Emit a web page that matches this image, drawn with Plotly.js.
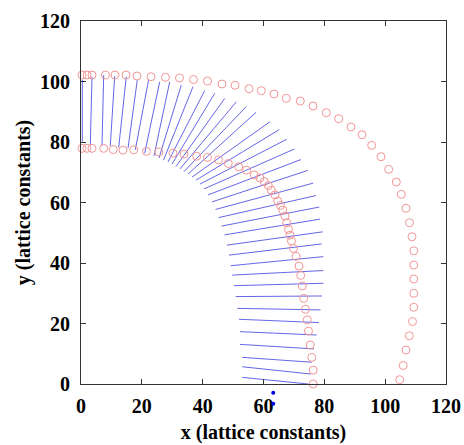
<!DOCTYPE html>
<html>
<head>
<meta charset="utf-8">
<script src="https://cdn.plot.ly/plotly-3.0.1.min.js"></script>
<style>html,body{margin:0;padding:0;background:#fff}#chart{width:464px;height:445px}</style>
</head>
<body>
<div id="chart"></div>
<script>
// Outer ring of circles
const outerRingX = [0.33,1.97,3.62,8.05,11.18,14.8,18.41,23.01,27.78,32.38,36.99,41.59,46.36,50.63,55.23,59.28,63.45,67.50,72.10,76.27,80.65,84.72,88.77,92.38,95.57,98.63,101.16,103.66,105.30,106.85,108.0,108.82,109.41,109.41,109.41,109.41,109.41,108.99,107.94,106.85,105.93,104.78];
const outerRingY = [102.15,102.15,102.15,102.15,102.15,102.15,101.82,101.59,101.39,101.16,100.66,100.17,99.17,98.74,97.62,96.96,95.87,94.45,93.55,91.90,89.69,87.70,84.96,82.41,78.91,75.14,70.98,66.78,62.71,58.08,53.32,48.69,44.03,39.34,34.71,29.98,25.36,20.66,15.93,11.24,6.12,1.42];
// Inner ring of circles
const innerRingX = [0.33,1.97,3.62,7.46,10.62,13.81,17.33,21.53,25.58,30.25,33.86,38.04,41.59,45.21,48.43,51.85,54.41,56.98,58.85,60.26,61.58,62.56,63.78,64.67,65.59,66.31,67.07,67.63,68.22,68.71,69.21,69.86,70.69,71.67,72.23,72.76,73.25,73.81,74.37,74.80,75.35,75.88,76.34,76.34];
const innerRingY = [77.9,77.9,77.9,77.9,77.5,77.3,77.4,76.9,76.7,76.3,76.0,75.3,74.9,74.1,72.9,71.8,70.7,69.1,68.1,66.9,65.6,64.1,62.5,60.5,59.0,57.5,55.5,53.3,51.1,49.2,47.3,44.8,42.2,39.0,35.9,32.4,28.3,24.7,21.2,17.5,12.9,8.8,4.6,0.0];
// Segment end points (inner end / outer end)
const segInnerX = [0.43,3.06,6.90,9.63,12.39,15.45,17.85,20.94,24.00,25.64,27.12,28.60,29.92,31.23,32.55,33.86,35.18,36.49,37.81,39.12,40.44,41.75,43.07,44.22,45.21,46.19,47.18,48.00,48.66,49.22,49.74,50.30,50.86,51.39,51.95,52.27,52.27,53.03,53.03,53.03];
const segInnerY = [80.1,79.0,78.7,78.7,78.2,77.9,77.4,76.3,75.4,74.7,74.0,73.4,72.7,71.9,71.1,70.2,69.4,68.4,67.4,66.1,64.5,62.5,60.2,57.7,55.0,52.2,49.3,45.9,42.6,39.1,36.0,32.5,28.9,25.0,21.4,17.3,13.1,8.8,5.7,2.2];
const segOuterX = [0.43,3.62,7.46,11.08,14.89,18.51,22.26,25.87,29.16,32.97,36.82,40.67,43.96,47.24,51.06,54.34,57.53,62.14,65.19,67.63,70.19,72.33,74.53,76.34,77.26,78.34,78.57,79.46,79.13,79.66,79.66,79.66,79.23,78.74,78.24,77.49,76.60,75.85,75.52,74.73];
const segOuterY = [100.5,101.6,102.1,101.8,101.6,100.5,100.7,99.9,99.9,98.8,98.3,97.0,96.1,94.4,93.3,91.7,89.8,86.7,84.1,80.9,77.7,74.2,70.6,66.4,62.3,58.5,54.5,50.3,46.3,42.1,37.5,33.3,29.1,24.5,20.3,16.2,11.6,7.2,3.3,0.0];
// Blue dots (below the x axis)
const dotX = [63.2,63.2];
const dotY = [-2.9,-6.5];
const yRange = [0,120];
const tickVals = [0,20,40,60,80,100,120];
const tickText = ['0','20','40','60','80','100','120'];

const lx = [], ly = [];
for (let i = 0; i < segInnerX.length; i++) {
  lx.push(segInnerX[i], segOuterX[i], null);
  ly.push(segInnerY[i], segOuterY[i], null);
}
const circleStyle = {symbol:'circle-open', size:8, color:'rgb(242,150,150)', line:{width:1, color:'rgb(242,150,150)'}};
const traces = [
  {x:lx, y:ly, type:'scatter', mode:'lines', line:{color:'rgb(85,85,228)', width:0.9}, cliponaxis:false, hoverinfo:'skip'},
  {x:outerRingX, y:outerRingY, type:'scatter', mode:'markers', marker:circleStyle, cliponaxis:false},
  {x:innerRingX, y:innerRingY, type:'scatter', mode:'markers', marker:circleStyle, cliponaxis:false}
];
const fam = '"Liberation Serif", "Times New Roman", serif';
const tickFont = {family:fam, size:20, color:'#000', weight:'bold'};
const axisCommon = {
  range:yRange, tickvals:tickVals, ticktext:tickText, ticks:'inside', ticklen:5, tickwidth:1,
  tickcolor:'#333', showline:true, linecolor:'#333', linewidth:1, mirror:'ticks', showgrid:false,
  zeroline:false, tickfont:tickFont, autorange:false, fixedrange:true
};
// dots lie outside the axis range, so place them as small shapes relative to the y-axis domain
const shapes = dotX.map((x, i) => ({
  type:'circle', layer:'above', xref:'x', yref:'y domain',
  xsizemode:'pixel', ysizemode:'pixel',
  xanchor:x, yanchor:(dotY[i] - yRange[0]) / (yRange[1] - yRange[0]),
  x0:-2, x1:2, y0:-2, y1:2,
  fillcolor:'rgb(0,0,230)', line:{width:0}
}));
const layout = {
  width:464, height:445,
  margin:{l:81, r:18, t:21, b:61, pad:0},
  paper_bgcolor:'#fff', plot_bgcolor:'#fff', showlegend:false,
  font:{family:fam, size:20, color:'#000'},
  shapes:shapes,
  xaxis:Object.assign({}, axisCommon, {
    ticklabelstandoff:4,
    title:{text:'<b>x (lattice constants)</b>', font:{family:fam, size:20, color:'#000'}, standoff:8}
  }),
  yaxis:Object.assign({}, axisCommon, {
    ticklabelstandoff:6,
    title:{text:'<b>y (lattice constants)</b>', font:{family:fam, size:20, color:'#000'}, standoff:4}
  })
};
Plotly.newPlot('chart', traces, layout, {staticPlot:true, displayModeBar:false});
</script>
</body>
</html>
